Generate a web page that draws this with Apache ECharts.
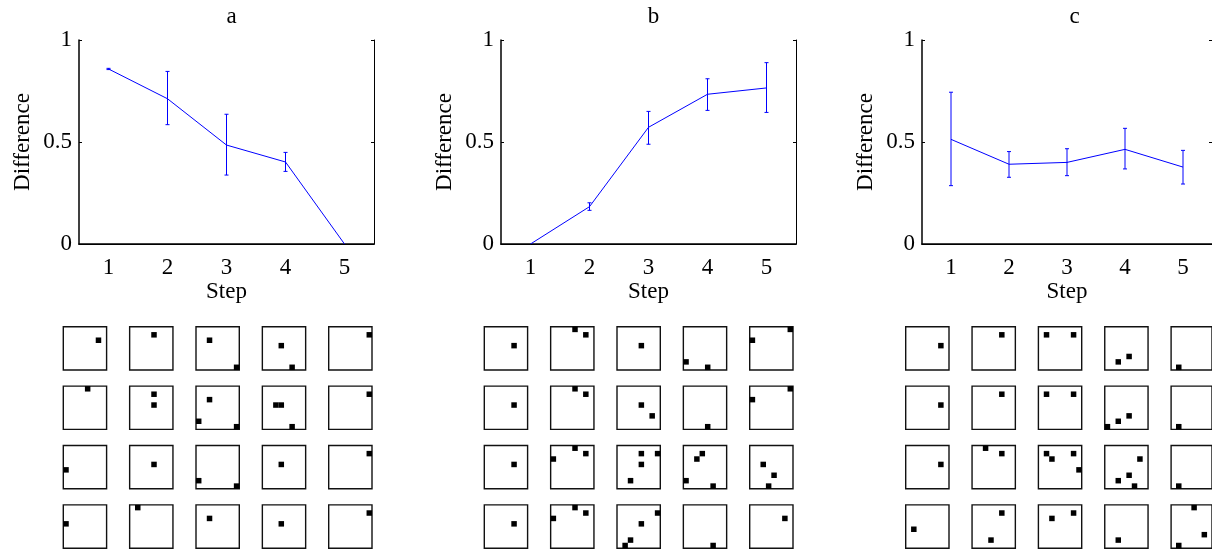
<!DOCTYPE html>
<html>
<head>
<meta charset="utf-8">
<script src="https://cdn.jsdelivr.net/npm/echarts@6/dist/echarts.min.js"></script>
<style>
html, body { margin: 0; padding: 0; background: #fff; }
#chart-panel { width: 1212px; height: 552px; }
</style>
</head>
<body>
<div id="chart-panel"></div>
<script>
// step categories and panel names
var steps = ['1', '2', '3', '4', '5'];
var panelNames = ['a', 'b', 'c'];

// mean difference per step, with error bar ends
var meanA = [0.858, 0.712, 0.485, 0.402, 0];
var lowA = [0.855, 0.585, 0.338, 0.356, 0];
var highA = [0.861, 0.846, 0.636, 0.449, 0];

var meanB = [0, 0.183, 0.572, 0.734, 0.765];
var lowB = [0, 0.165, 0.489, 0.655, 0.645];
var highB = [0, 0.202, 0.650, 0.810, 0.889];

var meanC = [0.513, 0.391, 0.400, 0.464, 0.377];
var lowC = [0.286, 0.327, 0.335, 0.368, 0.294];
var highC = [0.744, 0.453, 0.467, 0.567, 0.459];

// filled cells [col, row] on the 8x8 grid of each small box, 4 rows x 5 boxes
var cellsA = [
    [[[6, 2]], [[4, 1]], [[2, 2], [7, 7]], [[3, 3], [5, 7]], [[7, 1]]],
    [[[4, 0]], [[4, 1], [4, 3]], [[2, 2], [0, 6], [7, 7]], [[2, 3], [3, 3], [5, 7]], [[7, 1]]],
    [[[0, 4]], [[4, 3]], [[0, 6], [7, 7]], [[3, 3]], [[7, 1]]],
    [[[0, 3]], [[1, 0]], [[2, 2]], [[3, 3]], [[7, 1]]]
];
var cellsB = [
    [[[5, 3]], [[4, 0], [6, 1]], [[4, 3]], [[0, 6], [4, 7]], [[7, 0], [0, 2]]],
    [[[5, 3]], [[4, 0], [6, 1]], [[4, 3], [6, 5]], [[4, 7]], [[7, 0], [0, 2]]],
    [[[5, 3]], [[4, 0], [6, 1], [0, 2]], [[4, 1], [7, 1], [4, 3], [2, 6]], [[3, 1], [2, 2], [0, 6], [5, 7]], [[2, 3], [4, 5], [3, 7]]],
    [[[5, 3]], [[4, 0], [6, 1], [0, 2]], [[7, 1], [4, 3], [2, 6], [1, 7]], [[5, 7]], [[6, 2]]]
];
var cellsC = [
    [[[6, 3]], [[5, 1]], [[1, 1], [6, 1]], [[2, 6], [4, 5]], [[1, 7]]],
    [[[6, 3]], [[5, 1]], [[1, 1], [6, 1]], [[0, 7], [2, 6], [4, 5]], [[1, 7]]],
    [[[6, 3]], [[2, 0], [5, 1]], [[1, 1], [2, 2], [6, 1], [7, 4]], [[6, 2], [4, 5], [2, 6], [5, 7]], [[1, 7]]],
    [[[1, 4]], [[5, 1], [3, 6]], [[2, 2], [6, 1]], [[2, 6]], [[4, 0], [6, 5], [1, 7]]]
];

var means = [meanA, meanB, meanC];
var lows = [lowA, lowB, lowC];
var highs = [highA, highB, highC];
var cells = [cellsA, cellsB, cellsC];

var font = 'Liberation Serif';
var fontSize = 23;
var blue = '#0000ff';

var plotLeft = [79, 501, 922];
var plotTop = 40, plotW = 295, plotH = 204;
var boxLeft = [63.3, 484.3, 905.7];
var boxTop = 326.7, boxPitchX = 66.35, boxPitchY = 59.4, boxSize = 43.3;

var grids = [], xAxes = [], yAxes = [], series = [], titles = [];

function errorBar(params, api) {
    var x = api.value(0);
    var lo = api.coord([x, api.value(1)]);
    var hi = api.coord([x, api.value(2)]);
    if (Math.abs(lo[1] - hi[1]) < 0.5) return null;
    var cap = 2;
    var st = { stroke: blue, lineWidth: 1 };
    return {
        type: 'group',
        children: [
            { type: 'line', shape: { x1: lo[0], y1: lo[1], x2: hi[0], y2: hi[1] }, style: st },
            { type: 'line', shape: { x1: lo[0] - cap, y1: lo[1], x2: lo[0] + cap, y2: lo[1] }, style: st },
            { type: 'line', shape: { x1: hi[0] - cap, y1: hi[1], x2: hi[0] + cap, y2: hi[1] }, style: st }
        ]
    };
}

for (var p = 0; p < 3; p++) {
    var g = grids.length;
    grids.push({ left: plotLeft[p], top: plotTop, width: plotW, height: plotH, show: false });
    titles.push({
        text: panelNames[p],
        left: plotLeft[p] + plotW / 2,
        top: 0,
        textAlign: 'center',
        textStyle: { fontFamily: font, fontSize: fontSize, fontWeight: 'normal', color: '#000' }
    });
    var xi = xAxes.length, yi = yAxes.length;
    xAxes.push({
        gridIndex: g, type: 'category', data: steps, boundaryGap: true,
        name: 'Step', nameLocation: 'middle', nameGap: 36,
        nameTextStyle: { fontFamily: font, fontSize: fontSize, color: '#000' },
        axisLine: { lineStyle: { color: '#000', width: 1.5 } },
        axisTick: { inside: true, alignWithLabel: true, length: 3, lineStyle: { color: '#000' } },
        axisLabel: { margin: 12, fontFamily: font, fontSize: fontSize, color: '#000' },
        splitLine: { show: false }
    });
    xAxes.push({
        gridIndex: g, type: 'category', data: steps, boundaryGap: true, position: 'top',
        axisLine: { lineStyle: { color: '#000', width: 1 } },
        axisTick: { inside: true, alignWithLabel: true, length: 3, lineStyle: { color: '#000' } },
        axisLabel: { show: false },
        splitLine: { show: false }
    });
    yAxes.push({
        gridIndex: g, type: 'value', min: 0, max: 1, interval: 0.5,
        name: 'Difference', nameLocation: 'middle', nameGap: 45,
        nameTextStyle: { fontFamily: font, fontSize: fontSize, color: '#000' },
        axisLine: { show: true, lineStyle: { color: '#000', width: 1.5 } },
        axisTick: { show: true, inside: true, length: 3, lineStyle: { color: '#000' } },
        axisLabel: { margin: 7, fontFamily: font, fontSize: fontSize, color: '#000' },
        splitLine: { show: false }
    });
    yAxes.push({
        gridIndex: g, type: 'value', min: 0, max: 1, interval: 0.5, position: 'right',
        axisLine: { show: true, lineStyle: { color: '#000', width: 1 } },
        axisTick: { show: true, inside: true, length: 3, lineStyle: { color: '#000' } },
        axisLabel: { show: false },
        splitLine: { show: false }
    });
    series.push({
        type: 'line', xAxisIndex: xi, yAxisIndex: yi, data: means[p],
        symbol: 'none', lineStyle: { color: blue, width: 1 }, itemStyle: { color: blue },
        silent: true, animation: false
    });
    var eb = [];
    for (var i = 0; i < steps.length; i++) eb.push([i, lows[p][i], highs[p][i]]);
    series.push({
        type: 'custom', xAxisIndex: xi, yAxisIndex: yi, data: eb,
        renderItem: errorBar, silent: true, animation: false
    });

    // small boxes
    for (var r = 0; r < 4; r++) {
        for (var c = 0; c < 5; c++) {
            var bg = grids.length;
            grids.push({
                left: boxLeft[p] + c * boxPitchX, top: boxTop + r * boxPitchY,
                width: boxSize, height: boxSize,
                show: true, borderColor: '#111', borderWidth: 1.4, backgroundColor: '#fff'
            });
            var bx = xAxes.length, by = yAxes.length;
            xAxes.push({ gridIndex: bg, type: 'value', min: -0.5, max: 7.5, show: false });
            yAxes.push({ gridIndex: bg, type: 'value', min: -0.5, max: 7.5, inverse: true, show: false });
            series.push({
                type: 'scatter', xAxisIndex: bx, yAxisIndex: by,
                data: cells[p][r][c], symbol: 'rect', symbolSize: 5.5,
                itemStyle: { color: '#000', opacity: 1 }, silent: true, animation: false
            });
        }
    }
}

var option = {
    backgroundColor: '#fff',
    animation: false,
    title: titles,
    grid: grids,
    xAxis: xAxes,
    yAxis: yAxes,
    series: series
};

var chart = echarts.init(document.getElementById('chart-panel'));
chart.setOption(option);
</script>
</body>
</html>
